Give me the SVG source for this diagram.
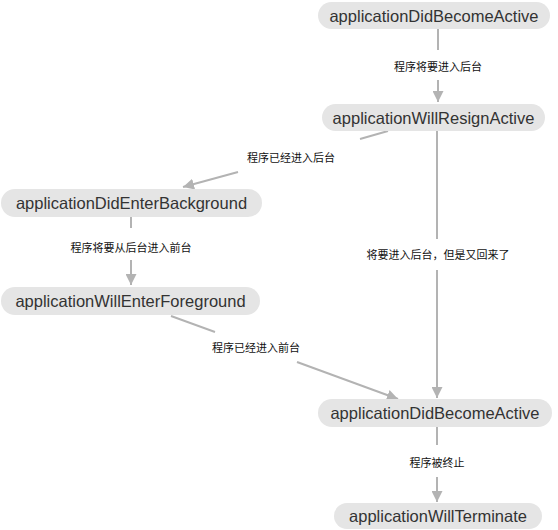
<svg xmlns="http://www.w3.org/2000/svg" width="558" height="530" viewBox="0 0 558 530">
<style>
.node rect{fill:#e5e5e5;}
.node text{font-family:"Liberation Sans",Arial,sans-serif;font-size:16.5px;fill:#333;text-anchor:middle;}
.edges line{stroke:#b3b3b3;stroke-width:2;}
.lbl{font-family:"Noto Sans CJK SC","Liberation Sans",sans-serif;font-size:11px;fill:#111;text-anchor:middle;}
</style>
<defs>
<marker id="arr" markerUnits="userSpaceOnUse" markerWidth="11" markerHeight="11" refX="10" refY="5" orient="auto" viewBox="0 0 10 10">
<path d="M0,0 L10,5 L0,10 z" fill="#b3b3b3"/>
</marker>
</defs>
<rect width="558" height="530" fill="#fff"/>
<g class="edges">
<line x1="438" y1="29" x2="438" y2="50"/>
<line x1="438" y1="80" x2="438" y2="102" marker-end="url(#arr)"/>
<text class="lbl" x="438" y="71">程序将要进入后台</text>
<line x1="388" y1="131" x2="360" y2="139"/>
<line x1="238" y1="172" x2="183" y2="187" marker-end="url(#arr)"/>
<text class="lbl" x="291" y="162">程序已经进入后台</text>
<line x1="131" y1="217" x2="131" y2="228"/>
<line x1="131" y1="260" x2="131" y2="285" marker-end="url(#arr)"/>
<text class="lbl" x="131" y="252">程序将要从后台进入前台</text>
<line x1="171" y1="316" x2="215" y2="332"/>
<line x1="297" y1="362" x2="398" y2="399" marker-end="url(#arr)"/>
<text class="lbl" x="256" y="352">程序已经进入前台</text>
<line x1="437" y1="130" x2="437" y2="239"/>
<line x1="437" y1="270" x2="437" y2="398" marker-end="url(#arr)"/>
<text class="lbl" x="438" y="259">将要进入后台，但是又回来了</text>
<line x1="437" y1="427" x2="437" y2="445"/>
<line x1="437" y1="477" x2="437" y2="502" marker-end="url(#arr)"/>
<text class="lbl" x="437" y="467">程序被终止</text>
</g>
<g id="n1" class="node"><rect x="318" y="2" width="232" height="27" rx="13.5"/><text x="434" y="22">applicationDidBecomeActive</text></g>
<g id="n2" class="node"><rect x="322" y="104" width="223" height="27" rx="13.5"/><text x="433.5" y="124">applicationWillResignActive</text></g>
<g id="n3" class="node"><rect x="1" y="189" width="261" height="28" rx="14"/><text x="131.5" y="209">applicationDidEnterBackground</text></g>
<g id="n4" class="node"><rect x="1" y="287" width="259" height="28" rx="14"/><text x="130.5" y="307">applicationWillEnterForeground</text></g>
<g id="n5" class="node"><rect x="318" y="399" width="234" height="28" rx="14"/><text x="435" y="419">applicationDidBecomeActive</text></g>
<g id="n6" class="node"><rect x="334" y="503" width="208" height="26" rx="13"/><text x="438" y="522">applicationWillTerminate</text></g>
</svg>
